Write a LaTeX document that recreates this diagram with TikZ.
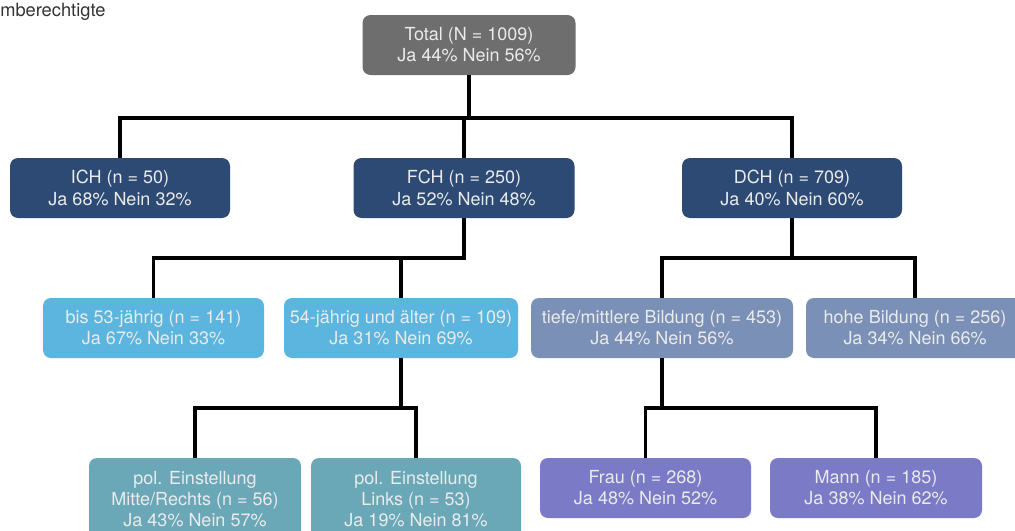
\documentclass[tikz,border=0pt]{standalone}
\usepackage{fontspec}
\setmainfont{TeX Gyre Heros}
\usepackage{xcolor}
\usetikzlibrary{calc}
\usetikzlibrary{positioning}
\definecolor{totgray}{HTML}{6E6E6E}
\definecolor{navy2}{HTML}{2D4A75}
\definecolor{sky2}{HTML}{5BB5DF}
\definecolor{slate2}{HTML}{7B90B6}
\definecolor{teal2}{HTML}{6AA8B8}
\definecolor{lila2}{HTML}{7A7AC6}
\def\thickness{2.2pt}
\tikzset{
box/.style 2 args={fill=#1, rounded corners=2mm, text=white!92!black, align=center,
	minimum width=#2, minimum height=1.5cm, inner sep=0pt, font=\fontsize{12.8}{15}\selectfont},
conn/.style={line width=\thickness, black},
}
\begin{document}
\begin{tikzpicture}
\useasboundingbox (0,0) rectangle (25.375,-13.25);
\node[anchor=north west, inner sep=0pt, text=black!80, font=\fontsize{13}{15}\selectfont] (title) at (0,-0.07) {mberechtigte};
%Place the nodes
\node[box={totgray}{5.325cm}] (tot) at (11.725,-1.125) {Total (N = 1009)\\Ja 44\% Nein 56\%};

\node[box={navy2}{5.5cm}] (ich) at (3.0,-4.7) {ICH (n = 50)\\Ja 68\% Nein 32\%};
\node[box={navy2}{5.525cm}] (fch) at (11.6,-4.7) {FCH (n = 250)\\Ja 52\% Nein 48\%};
\node[box={navy2}{5.5cm}] (dch) at (19.8,-4.7) {DCH (n = 709)\\Ja 40\% Nein 60\%};

\node[box={sky2}{5.525cm}] (bis) at (3.8375,-8.2) {bis 53-jährig (n = 141)\\Ja 67\% Nein 33\%};
\node[box={sky2}{5.85cm}] (alt) at (10.025,-8.2) {54-jährig und älter (n = 109)\\Ja 31\% Nein 69\%};
\node[box={slate2}{6.55cm}] (tief) at (16.55,-8.2) {tiefe/mittlere Bildung (n = 453)\\Ja 44\% Nein 56\%};
\node[box={slate2}{5.45cm}] (hoh) at (22.875,-8.2) {hohe Bildung (n = 256)\\Ja 34\% Nein 66\%};

\node[box={teal2}{5.3cm}, minimum height=2.05cm] (pmr) at (4.875,-12.475) {pol. Einstellung\\Mitte/Rechts (n = 56)\\Ja 43\% Nein 57\%};
\node[box={teal2}{5.25cm}, minimum height=2.05cm] (pli) at (10.4,-12.475) {pol. Einstellung\\Links (n = 53)\\Ja 19\% Nein 81\%};
\node[box={lila2}{5.275cm}] (frau) at (16.1375,-12.2) {Frau (n = 268)\\Ja 48\% Nein 52\%};
\node[box={lila2}{5.3cm}] (mann) at (21.9,-12.2) {Mann (n = 185)\\Ja 38\% Nein 62\%};

%branch levels
\coordinate (b1) at (0,-2.95);
\coordinate (b2) at (0,-6.45);
\coordinate (b3) at (0,-10.2);

%
\draw[conn] (tot.south) -- (tot.south |- b1);
\draw[conn] (ich.north) |- (dch.north |- b1) -- (dch.north);
\draw[conn] (fch.north) -- (fch.north |- b1);

%
\draw[conn] (fch.south) |- (bis.north |- b2) -- (bis.north);
\draw[conn] (alt.north) -- (alt.north |- b2);
\draw[conn] (dch.south) -- (dch.south |- b2);
\draw[conn] (tief.north) |- (hoh.north |- b2) -- (hoh.north);

%
\draw[conn] (alt.south) -- (alt.south |- b3);
\draw[conn] (pmr.north) |- (pli.north |- b3) -- (pli.north);
\draw[conn] (tief.south) -- (tief.south |- b3);
\draw[conn] (frau.north) |- (mann.north |- b3) -- (mann.north);

\end{tikzpicture}
\end{document}
